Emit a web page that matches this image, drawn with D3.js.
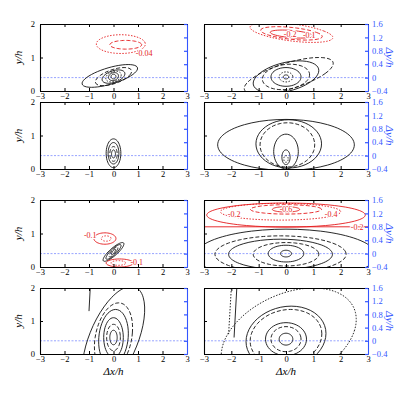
<!DOCTYPE html>
<html><head><meta charset="utf-8">
<script src="https://cdn.jsdelivr.net/npm/d3@7"></script>
<style>body{margin:0;background:#fff}</style>
</head><body><svg id="c" width="400" height="400"></svg>
<script>
"use strict";
// x ticks, y ticks (y/h) and right-hand ticks (dy/h)
var xTicks = [-3, -2, -1, 0, 1, 2, 3];
var yTicks = [0, 1, 2];
var dyTicks = [-0.4, 0, 0.4, 0.8, 1.2, 1.6];

// contour shapes per panel: [cx, cy, rx, ry, shear, style, colour]
var p1 = [[-0.15,0.45,0.85,0.34,2.2,"s","k"],[0,0.43,0.6,0.27,1.6,"d","k"],[0,0.43,0.42,0.2,1.0,"s","k"],
  [0,0.43,0.3,0.16,0.6,"o","k"],[0,0.43,0.2,0.12,0.3,"s","k"],[0,0.43,0.1,0.07,0,"s","k"],
  [0.3,1.4,1.0,0.28,0,"o","r"],[0.5,1.38,0.65,0.13,0,"d","r"]];
var p2 = [[0.1,0.45,1.2,0.55,2.0,"d","k"],[0,0.42,1.1,0.48,1.0,"s","k"],[0,0.42,0.85,0.38,0.4,"d","k"],
  [0,0.42,0.55,0.28,0,"s","k"],[0,0.42,0.25,0.15,0,"o","k"],[0,0.42,0.1,0.06,0,"s","k"],
  [0.2,1.75,1.3,0.3,-2.6,"o","r"],[0.2,1.72,1.0,0.2,-2.6,"d","r"],[0.2,1.7,0.7,0.12,-2.8,"s","r"]];
var p3 = [[0,0.47,0.3,0.43,0,"s","k"],[0,0.47,0.22,0.32,0,"s","k"],[0,0.45,0.15,0.22,0,"d","k"],
  [0,0.45,0.08,0.12,0,"s","k"]];
var p4 = [[0,0.72,2.5,0.76,0,"s","k"],[0.1,0.75,1.2,0.72,0,"s","k"],[0.05,0.72,1.0,0.66,0,"d","k"],
  [0,0.52,0.45,0.52,0,"s","k"],[0,0.35,0.15,0.22,0,"s","k"],[0,0.3,0.08,0.1,0,"o","k"]];
var p5 = [[0,0.45,0.22,0.28,1.3,"s","k"],[0,0.45,0.16,0.22,1.2,"s","k"],[0,0.45,0.1,0.15,1.0,"d","k"],
  [0,0.45,0.05,0.08,0.8,"s","k"],[-0.35,0.85,0.45,0.17,0,"s","r"],[-0.3,0.85,0.2,0.08,0,"o","r"],
  [0.25,0.12,0.55,0.12,0,"s","r"],[0.2,0.12,0.3,0.07,0,"o","r"]];
var p6 = [[0,0.35,3.3,0.78,0,"s","k"],[-0.2,0.38,2.4,0.55,0,"d","k"],[-0.2,0.38,1.9,0.45,0,"s","k"],
  [0,0.38,1.2,0.35,0,"d","k"],[0,0.4,0.65,0.25,0,"s","k"],[0,0.4,0.2,0.1,0,"s","k"],
  [0,1.55,2.9,0.36,0,"s","r"],[-0.2,1.65,2.2,0.25,0,"o","r"],[0,1.72,1.3,0.14,0,"d","r"],
  [0,1.72,0.5,0.08,0,"s","r"]];
var p7 = [[0,0.45,1.05,1.6,0.45,"s","k"],[0,0.5,0.75,1.05,0.2,"d","k"],[0,0.5,0.6,0.85,0.1,"s","k"],
  [0,0.5,0.4,0.6,0,"s","k"],[0,0.5,0.28,0.4,0,"d","k"],[0,0.5,0.15,0.22,0,"s","k"]];
var p8 = [[0.1,0.5,2.3,1.5,0.6,"o","k"],[0,0.5,1.45,0.95,0.2,"s","k"],[0,0.5,1.3,0.85,0.2,"d","k"],
  [0,0.45,0.75,0.5,0,"s","k"],[0,0.45,0.55,0.38,0,"d","k"],[0,0.45,0.25,0.18,0,"s","k"]];
var panels = [p1, p2, p3, p4, p5, p6, p7, p8];

// straight contours per panel: [x0, y0, x1, y1, style, colour]
var lines = [[], [], [], [], [], [[-3,1.2,3,1.2,"s","r"]],
  [[-0.95,2,-1.0,1.3,"s","k"]], [[-2,2,-2.1,0.6,"o","k"],[-1.8,2,-1.9,0.5,"s","k"]]];

// contour labels: [panel, x, y, text]
var labels = [[0,1.25,1.05,"-0.04"],[1,0.15,1.62,"-0.2"],[1,0.85,1.58,"-0.1"],
  [4,-0.95,0.88,"-0.1"],[4,0.95,0.05,"-0.1"],[5,-1.9,1.5,"-0.2"],[5,0,1.65,"-0.6"],
  [5,1.65,1.48,"-0.4"],[5,2.6,1.1,"-0.2"]];

var cols = [[40, 187], [204, 368]];
var rows = [[24, 91], [102, 169], [200, 267], [288, 354]];
var dash = {s: null, d: "4,2", o: "1.5,1.5"};
var colour = {k: "#111", r: "#e41a1c"};
var serif = "'Liberation Serif', 'DejaVu Serif', serif";

var svg = d3.select("#c");

panels.forEach(function(shapes, i) {
  var col = cols[i % 2], row = rows[Math.floor(i / 2)],
    right = i % 2 === 1, bottom = i >= 6,
    x = d3.scaleLinear().domain([-3, 3]).range(col),
    y = d3.scaleLinear().domain([0, 2]).range([row[1], row[0]]),
    dy = d3.scaleLinear().domain([-0.4, 1.6]).range([row[1], row[0]]),
    g = svg.append("g"),
    clip = "clip" + i;

  g.append("clipPath").attr("id", clip).append("rect")
    .attr("x", col[0]).attr("y", row[0]).attr("width", col[1] - col[0]).attr("height", row[1] - row[0]);

  var body = g.append("g").attr("clip-path", "url(#" + clip + ")");

  body.append("line").attr("x1", col[0]).attr("x2", col[1]).attr("y1", y(0.4)).attr("y2", y(0.4))
    .attr("stroke", "#6b7cff").attr("stroke-width", 0.7).attr("stroke-dasharray", "2,1.5");

  var line = d3.line().x(function(d) { return x(d[0]); }).y(function(d) { return y(d[1]); })
    .curve(d3.curveCardinalClosed);

  shapes.forEach(function(s) {
    var pts = d3.range(48).map(function(k) {
      var a = k / 48 * 2 * Math.PI, py = s[1] + s[3] * Math.sin(a);
      return [s[0] + s[2] * Math.cos(a) + s[4] * (py - s[1]), py];
    });
    body.append("path").attr("d", line(pts)).attr("fill", "none")
      .attr("stroke", colour[s[6]]).attr("stroke-width", 0.9).attr("stroke-dasharray", dash[s[5]]);
  });

  lines[i].forEach(function(l) {
    body.append("line").attr("x1", x(l[0])).attr("y1", y(l[1])).attr("x2", x(l[2])).attr("y2", y(l[3]))
      .attr("stroke", colour[l[5]]).attr("stroke-width", 0.9).attr("stroke-dasharray", dash[l[4]]);
  });

  labels.filter(function(l) { return l[0] === i; }).forEach(function(l) {
    body.append("text").attr("x", x(l[1])).attr("y", y(l[2])).attr("text-anchor", "middle")
      .attr("font-family", serif).attr("font-size", 8).attr("fill", colour.r)
      .attr("stroke", "#fff").attr("stroke-width", 2).attr("paint-order", "stroke").text(l[3]);
  });

  // axes
  var axStyle = function(sel) {
    sel.selectAll("text").attr("font-family", serif).attr("font-size", 8.5);
  };
  g.append("g").attr("transform", "translate(0," + row[1] + ")")
    .call(d3.axisBottom(x).tickValues(xTicks).tickSizeInner(-3).tickSizeOuter(0).tickPadding(2)
      .tickFormat(function(d) { return d < 0 ? "\u2212" + (-d) : d; }))
    .call(axStyle);
  g.append("g").attr("transform", "translate(0," + row[0] + ")")
    .call(d3.axisTop(x).tickValues(xTicks).tickSizeInner(-3).tickSizeOuter(0).tickFormat(""));
  g.append("g").attr("transform", "translate(" + col[0] + ",0)")
    .call(d3.axisLeft(y).tickValues(yTicks).tickSizeInner(-3).tickSizeOuter(0).tickPadding(5)
      .tickFormat(right ? "" : d3.format("d")))
    .call(axStyle);
  var yr = g.append("g").attr("transform", "translate(" + col[1] + ",0)")
    .call(d3.axisRight(dy).tickValues(dyTicks).tickSizeInner(-3).tickSizeOuter(0).tickPadding(4)
      .tickFormat(right ? function(d) { return d === 0 ? "0" : d3.format(".1f")(d).replace("-", "\u2212"); } : ""))
    .call(axStyle);
  yr.selectAll("line, path").attr("stroke", "#3355ff").attr("stroke-width", 1.2);
  yr.selectAll("text").attr("fill", "#3355ff");
  g.selectAll(".domain").attr("stroke-width", 1.1);

  if (!right) {
    svg.append("text").attr("transform", "translate(22," + ((row[0] + row[1]) / 2) + ") rotate(-90)")
      .attr("text-anchor", "middle").attr("font-family", serif).attr("font-size", 11)
      .attr("font-style", "italic").text("y/h");
  } else {
    svg.append("text").attr("transform", "translate(386," + ((row[0] + row[1]) / 2) + ") rotate(90)")
      .attr("text-anchor", "middle").attr("font-family", serif).attr("font-size", 11)
      .attr("fill", "#3355ff").attr("font-style", "italic").text("\u0394y/h");
  }
  if (bottom) {
    svg.append("text").attr("x", (col[0] + col[1]) / 2).attr("y", 375).attr("text-anchor", "middle")
      .attr("font-family", serif).attr("font-size", 11).attr("font-style", "italic").text("\u0394x/h");
  }
});
</script></body></html>
